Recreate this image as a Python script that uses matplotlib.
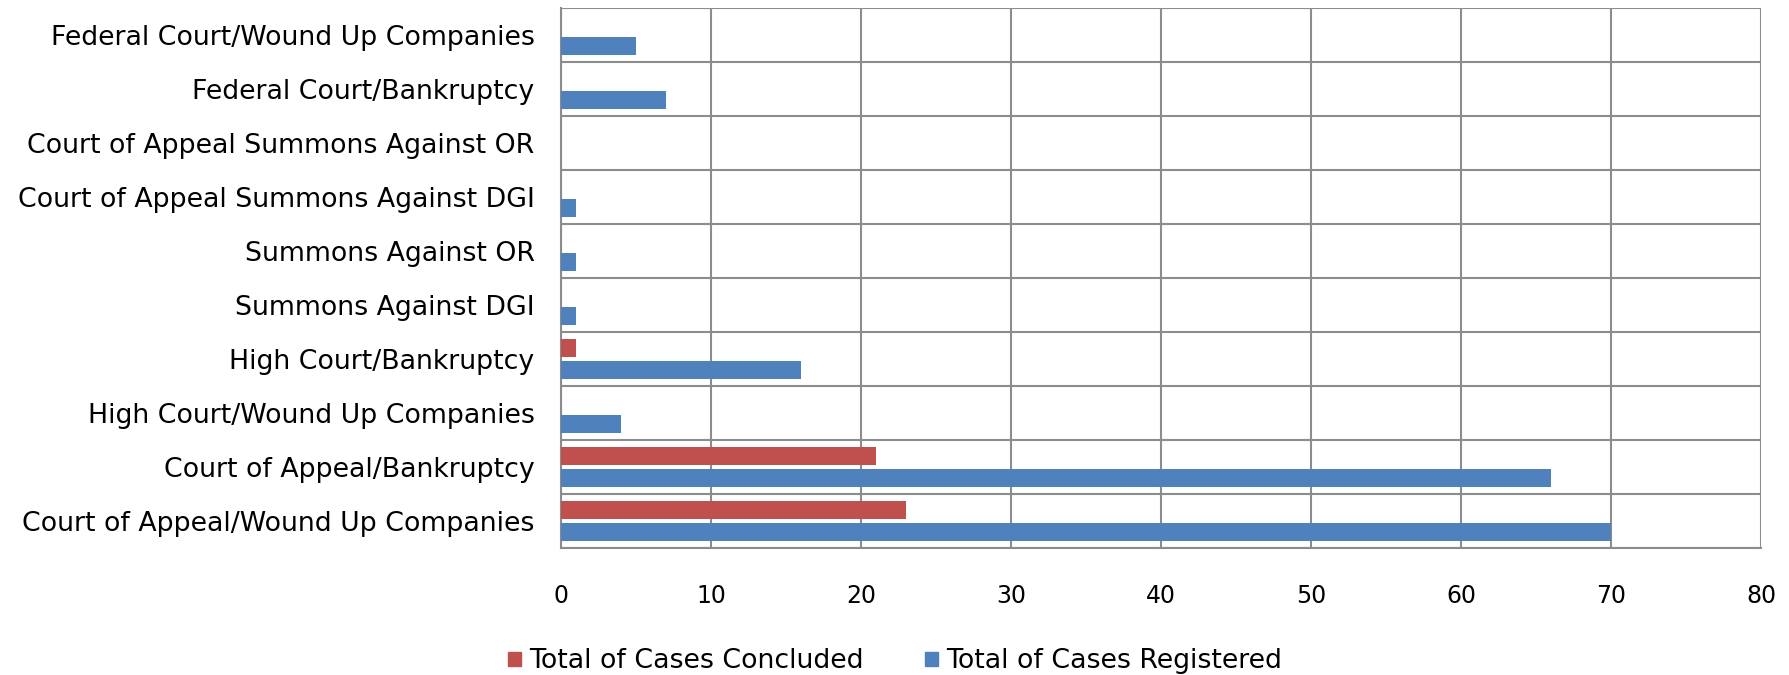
import numpy as np
import matplotlib.pyplot as plt
from matplotlib.patches import Patch

# categories from bottom to top
categories = [
    "Court of Appeal/Wound Up Companies",
    "Court of Appeal/Bankruptcy",
    "High Court/Wound Up Companies",
    "High Court/Bankruptcy",
    "Summons Against DGI",
    "Summons Against OR",
    "Court of Appeal Summons Against DGI",
    "Court of Appeal Summons Against OR",
    "Federal Court/Bankruptcy",
    "Federal Court/Wound Up Companies",
]
concluded = [23, 21, 0, 1, 0, 0, 0, 0, 0, 0]
registered = [70, 66, 4, 16, 1, 1, 1, 0, 7, 5]
x_ticks = [0, 10, 20, 30, 40, 50, 60, 70, 80]

red = "#C0504D"
blue = "#4F81BD"
grid_col = "#8C8C8C"

plt.rcParams["font.family"] = ["DejaVu Sans"]

fig = plt.figure(figsize=(17.9, 6.75), dpi=100)
ax = fig.add_axes([0.3134, 0.1881, 0.6704, 0.8000])

y = np.arange(len(categories))
h = 0.33
ax.barh(y + 0.204, concluded, height=h, color=red, zorder=3)
ax.barh(y - 0.204, registered, height=h, color=blue, zorder=3)

ax.set_xlim(0, 80)
ax.set_ylim(-0.5, len(categories) - 0.5)
ax.set_xticks(x_ticks)
ax.set_xticklabels([str(v) for v in x_ticks], fontsize=17)
ax.set_yticks(y)
ax.set_yticklabels(categories, fontsize=19.3)
ax.set_yticks(np.arange(-0.5, len(categories), 1.0), minor=True)

ax.tick_params(axis="x", length=0, pad=26)
ax.tick_params(axis="y", which="both", length=0, pad=19)

ax.grid(axis="x", which="major", color=grid_col, linewidth=1.5, zorder=0)
ax.grid(axis="y", which="minor", color=grid_col, linewidth=1.5, zorder=0)
ax.grid(axis="y", which="major", visible=False)

for s in ["top", "right"]:
    ax.spines[s].set_visible(False)
for s in ["left", "bottom"]:
    ax.spines[s].set_color(grid_col)
    ax.spines[s].set_linewidth(1.5)

handles = [Patch(color=red, label="Total of Cases Concluded"),
           Patch(color=blue, label="Total of Cases Registered")]
fig.legend(handles=handles, loc="lower center", ncol=2, frameon=False,
           fontsize=19.3, handlelength=0.48, handleheight=0.48,
           handletextpad=0.3, columnspacing=2.3,
           bbox_to_anchor=(0.5, -0.035))

plt.savefig("out.png", dpi=100)
